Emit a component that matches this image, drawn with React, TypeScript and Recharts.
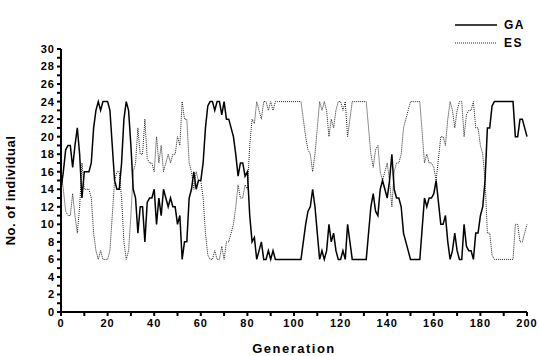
import { LineChart, Line, XAxis, YAxis, Legend } from "recharts";

// --- data ---
const generation = [
  0, 1, 2, 3, 4, 5, 6, 7, 8, 9, 10, 11, 12, 13, 14, 15, 16, 17, 18, 19,
  20, 21, 22, 23, 24, 25, 26, 27, 28, 29, 30, 31, 32, 33, 34, 35, 36, 37, 38, 39,
  40, 41, 42, 43, 44, 45, 46, 47, 48, 49, 50, 51, 52, 53, 54, 55, 56, 57, 58, 59,
  60, 61, 62, 63, 64, 65, 66, 67, 68, 69, 70, 71, 72, 73, 74, 75, 76, 77, 78, 79,
  80, 81, 82, 83, 84, 85, 86, 87, 88, 89, 90, 91, 92, 93, 103, 104, 105, 106, 107, 108,
  109, 110, 111, 112, 113, 114, 115, 116, 117, 118, 119, 120, 121, 122, 123, 124, 125, 131, 132, 133,
  134, 135, 136, 137, 138, 139, 140, 141, 142, 143, 144, 145, 146, 147, 148, 149, 150, 154, 155, 156,
  157, 158, 159, 160, 161, 162, 163, 164, 165, 166, 167, 168, 169, 170, 171, 172, 173, 174, 175, 176,
  177, 178, 179, 180, 181, 182, 183, 184, 185, 186, 194, 195, 196, 197, 198, 199, 200,
];

const gaCount = [
  14, 16, 18.5, 19, 19, 16.5, 19, 21, 18, 13, 16, 16, 16, 17, 21, 23, 24, 23, 24, 24,
  24, 23, 19, 15, 14, 14, 17, 22, 24, 23, 19, 14, 13, 9, 12, 12, 8, 12.5, 13, 13,
  14, 10, 13, 11, 14, 13, 12, 13, 12, 12, 10, 11, 6, 8, 8, 13, 14, 16, 14, 15,
  15, 17, 21, 23.5, 24, 24, 23, 24, 24, 22.5, 24, 22, 22, 21, 20, 18, 15.5, 17, 17, 15.5,
  16, 11, 8, 8.5, 6, 7, 8, 6, 6, 7, 6, 7, 6, 6, 6, 8, 10, 11.5, 12, 14,
  12, 9, 6, 7, 6, 7, 10, 8, 9, 7, 6, 6, 7, 6, 10, 8, 6, 6, 9, 12,
  13.5, 11.5, 11, 14, 15, 14, 13, 15, 18, 14, 13, 13, 12, 9, 8, 7, 6, 6, 9.5, 13,
  12, 13, 13, 13.5, 15, 12.5, 10, 10, 11, 8, 6, 7, 9, 7, 6, 6, 10, 7.5, 7, 7,
  6, 9, 9, 11, 12, 15, 21, 21, 23.5, 24, 24, 20, 20, 22, 22, 21, 20,
];

const esCount = [
  16, 14, 11.5, 11, 11, 13.5, 11, 9, 12, 17, 14, 14, 14, 13, 9, 7, 6, 7, 6, 6,
  6, 7, 11, 15, 16, 16, 13, 8, 6, 7, 11, 16, 17, 21, 18, 18, 22, 17.5, 17, 17,
  16, 20, 17, 19, 16, 17, 18, 17, 18, 18, 20, 19, 24, 22, 22, 17, 16, 14, 16, 15,
  15, 13, 9, 6.5, 6, 6, 7, 6, 6, 7.5, 6, 8, 8, 9, 10, 12, 14.5, 13, 13, 14.5,
  14, 19, 22, 21.5, 24, 23, 22, 24, 24, 23, 24, 23, 24, 24, 24, 22, 20, 18.5, 18, 16,
  18, 21, 24, 23, 24, 23, 20, 22, 21, 23, 24, 24, 23, 24, 20, 22, 24, 24, 21, 18,
  16.5, 18.5, 19, 16, 15, 16, 17, 15, 12, 16, 17, 17, 18, 21, 22, 23, 24, 24, 20.5, 17,
  18, 17, 17, 16.5, 15, 17.5, 20, 20, 19, 22, 24, 23, 21, 23, 24, 24, 20, 22.5, 23, 23,
  24, 21, 21, 19, 18, 15, 9, 9, 6.5, 6, 6, 10, 10, 8, 8, 9, 10,
];

const xTicks = [0, 10, 20, 30, 40, 50, 60, 70, 80, 90, 100, 110, 120, 130, 140, 150, 160, 170, 180, 190, 200];
const yTicks = [0, 1, 2, 3, 4, 5, 6, 7, 8, 9, 10, 11, 12, 13, 14, 15, 16, 17, 18, 19, 20, 21, 22, 23, 24, 25, 26, 27, 28, 29, 30];

const rows = generation.map((g, i) => ({ gen: g, ga: gaCount[i], es: esCount[i] }));

const font = "'Liberation Sans', Arial, sans-serif";
const tickStyle = { fontSize: 11, fontWeight: 700, fill: "#000", fontFamily: font, letterSpacing: 1 };

function LegendBox() {
  const items = [
    { name: "GA", dash: undefined, color: "#000", width: 1.5 },
    { name: "ES", dash: "1 1", color: "#222", width: 1 },
  ];
  return (
    <div style={{ fontFamily: font, fontWeight: 700, fontSize: 12, letterSpacing: 1.5 }}>
      {items.map((it) => (
        <div key={it.name} style={{ display: "flex", alignItems: "center", height: 18 }}>
          <svg width={44} height={6} style={{ marginRight: 5 }}>
            <line x1={0} y1={3} x2={42} y2={3} stroke={it.color} strokeWidth={it.width} strokeDasharray={it.dash} />
          </svg>
          <span>{it.name}</span>
        </div>
      ))}
    </div>
  );
}

export default function App() {
  return (
    <div style={{ position: "absolute", left: 0, top: 0, width: 539, height: 356, background: "#fff" }}>
      <LineChart width={539} height={356} data={rows} margin={{ top: 13, right: 12, bottom: 0, left: 0 }}>
        <XAxis
          dataKey="gen"
          type="number"
          domain={[0, 200]}
          ticks={xTicks}
          interval={0}
          tickFormatter={(v) => (v % 20 === 0 ? String(v) : "")}
          tick={tickStyle}
          tickSize={4}
          tickMargin={3}
          stroke="#000"
          strokeWidth={2}
          height={44}
          label={{ value: "Generation", position: "insideBottom", offset: 3, style: { fontSize: 13, fontWeight: 700, fill: "#000", fontFamily: font, letterSpacing: 1.5 } }}
        />
        <YAxis
          type="number"
          domain={[0, 30]}
          ticks={yTicks}
          interval={0}
          tickFormatter={(v) => (v % 2 === 0 ? String(v) : "")}
          tick={tickStyle}
          tickSize={4}
          tickMargin={2}
          stroke="#000"
          strokeWidth={2}
          width={61}
          label={{ value: "No. of individual", angle: -90, position: "insideLeft", offset: 10, dy: 10, style: { textAnchor: "middle", fontSize: 13, fontWeight: 700, fill: "#000", fontFamily: font, letterSpacing: 0.5 } }}
        />
        <Legend
          verticalAlign="top"
          align="right"
          content={() => <LegendBox />}
          wrapperStyle={{ position: "absolute", left: 455, top: 16, width: 80 }}
        />
        <Line dataKey="es" name="ES" type="linear" stroke="#222" strokeWidth={1} strokeDasharray="1 1" dot={false} isAnimationActive={false} />
        <Line dataKey="ga" name="GA" type="linear" stroke="#000" strokeWidth={1.5} dot={false} isAnimationActive={false} />
      </LineChart>
    </div>
  );
}
